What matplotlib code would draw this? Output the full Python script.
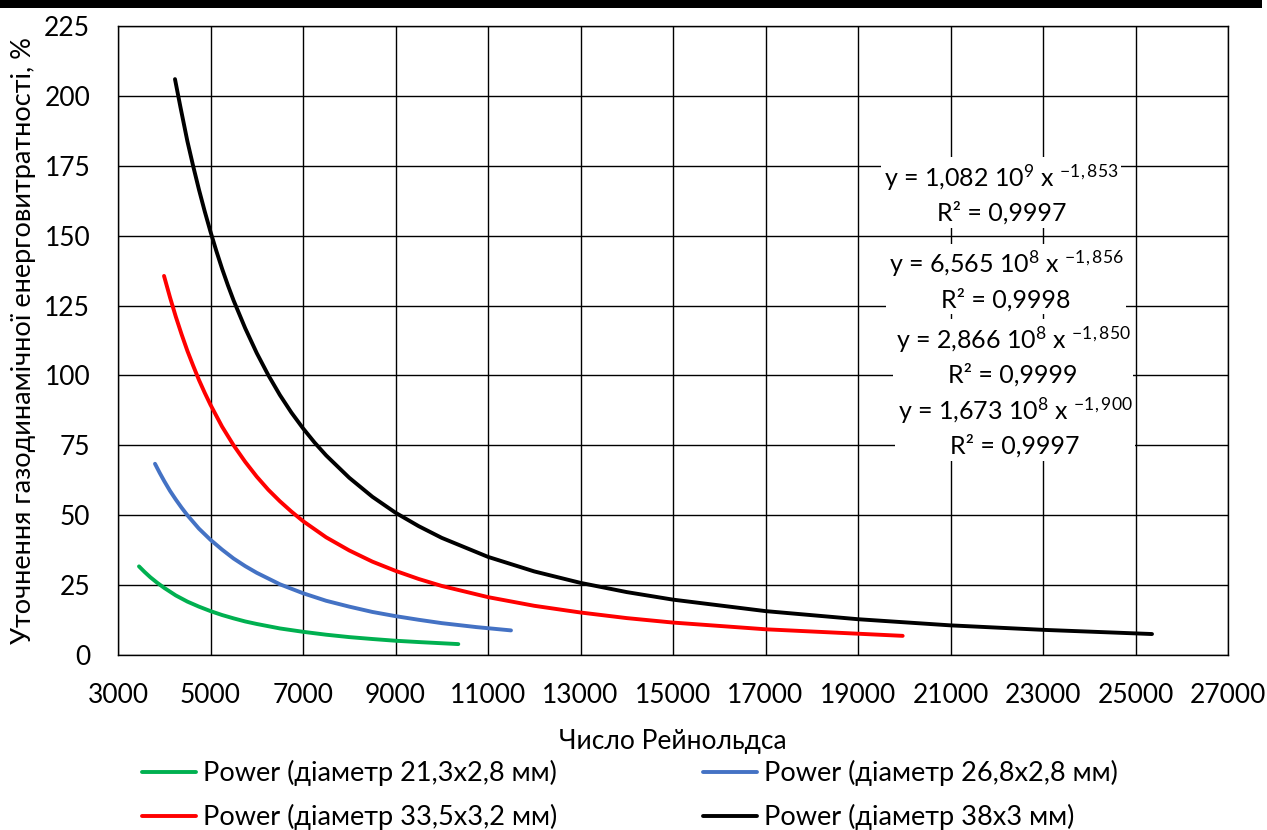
import matplotlib
matplotlib.use("Agg")
import matplotlib.pyplot as plt
from matplotlib.patches import Rectangle

plt.rcParams['font.family'] = ['Lato', 'DejaVu Sans']
plt.rcParams['mathtext.fontset'] = 'custom'
plt.rcParams['mathtext.rm'] = 'Lato'
plt.rcParams['mathtext.it'] = 'Lato'

# ---- data ----
green_x = [3454, 3575, 3700, 3850, 4000, 4250, 4500, 4750, 5000, 5250, 5500, 5750, 6000,
           6500, 7000, 7500, 8000, 8500, 9000, 9500, 10358]
green_y = [31.7, 29.7, 27.8, 25.8, 24.0, 21.3, 19.1, 17.3, 15.7, 14.3, 13.1, 12.0, 11.1,
           9.5, 8.3, 7.26, 6.4, 5.72, 5.1, 4.63, 3.9]

blue_x = [3800, 3900, 4000, 4125, 4250, 4375, 4500, 4750, 5000, 5250, 5500, 5750, 6000,
          6500, 7000, 7500, 8000, 8500, 9000, 9500, 10000, 10750, 11497]
blue_y = [68.4, 65.2, 62.2, 58.7, 55.6, 52.7, 50.0, 45.2, 41.2, 37.7, 34.5, 31.8, 29.4,
          25.3, 22.1, 19.4, 17.3, 15.4, 13.9, 12.6, 11.4, 9.98, 8.8]

red_x = [3995, 4125, 4250, 4375, 4500, 4625, 4750, 4875, 5000, 5250, 5500, 5750, 6000,
         6250, 6500, 6750, 7000, 7500, 8000, 8500, 9000, 9500, 10000,
         11000, 12000, 13000, 14000, 15000, 17000, 19966]
red_y = [135.6, 127.9, 121.0, 114.7, 108.8, 103.5, 98.4, 93.8, 89.5, 81.7, 75.0, 69.1, 63.8,
         59.1, 55.0, 51.3, 47.9, 42.1, 37.4, 33.4, 30.1, 27.2, 24.7,
         20.7, 17.6, 15.2, 13.2, 11.6, 9.2, 6.85]

black_x = [4232, 4350, 4500, 4625, 4750, 4875, 5000, 5125, 5250, 5375, 5500, 5750, 6000,
           6250, 6500, 6750, 7000, 7250, 7500, 8000, 8500, 9000, 9500, 10000,
           11000, 12000, 13000, 14000, 15000, 17000, 19000, 21000, 23000, 25357]
black_y = [206.0, 196.0, 183.8, 174.9, 166.5, 158.7, 151.4, 144.6, 138.2, 132.3, 126.8, 116.9, 108.0,
           100.1, 93.0, 86.7, 81.1, 76.0, 71.4, 63.4, 56.6, 50.9, 46.1, 41.9,
           35.1, 29.9, 25.8, 22.5, 19.8, 15.7, 12.8, 10.6, 9.0, 7.5]

labels = ["Power (діаметр 21,3x2,8 мм)", "Power (діаметр 26,8x2,8 мм)",
          "Power (діаметр 33,5x3,2 мм)", "Power (діаметр 38x3 мм)"]

equations = [r"y = 1,082 10$^{9}$ x $^{\mathregular{-1,853}}$" + "\nR² = 0,9997",
             r"y = 6,565 10$^{8}$ x $^{\mathregular{-1,856}}$" + "\nR² = 0,9998",
             r"y = 2,866 10$^{8}$ x $^{\mathregular{-1,850}}$" + "\nR² = 0,9999",
             r"y = 1,673 10$^{8}$ x $^{\mathregular{-1,900}}$" + "\nR² = 0,9997"]
eq_x = [22100, 22200, 22350, 22400]
eq_y = [165.1, 134.1, 107.1, 81.7]

x_ticks = list(range(3000, 27001, 2000))
y_ticks = list(range(0, 226, 25))

# ---- figure ----
fig = plt.figure(figsize=(12.67, 8.30), dpi=100)
ax = fig.add_axes([118/1267, 1-655/830, (1228-118)/1267, (655-26)/830])

fig.patches.append(Rectangle((0, 1-8/830), 1262/1267, 8/830, transform=fig.transFigure,
                             facecolor='black', edgecolor='none'))

lw = 2.8
lg, = ax.plot(green_x, green_y, color='#00B050', lw=lw, solid_capstyle='round',
              solid_joinstyle='round', label=labels[0], zorder=3)
lb, = ax.plot(blue_x, blue_y, color='#4472C4', lw=lw, solid_capstyle='round',
              solid_joinstyle='round', label=labels[1], zorder=3)
lr, = ax.plot(red_x, red_y, color='#FF0000', lw=lw, solid_capstyle='round',
              solid_joinstyle='round', label=labels[2], zorder=3)
lk, = ax.plot(black_x, black_y, color='#000000', lw=lw, solid_capstyle='round',
              solid_joinstyle='round', label=labels[3], zorder=3)

ax.set_xlim(3000, 27000)
ax.set_ylim(0, 225)
ax.set_xticks(x_ticks)
ax.set_yticks(y_ticks)
ax.grid(True, color='black', lw=1.0)
ax.set_axisbelow(True)
ax.tick_params(length=0, labelsize=19)
ax.tick_params(axis='x', pad=20)
ax.tick_params(axis='y', pad=20)
for s in ax.spines.values():
    s.set_color('black')
    s.set_linewidth(1.0)

for t, x, y in zip(equations, eq_x, eq_y):
    ax.text(x, y, t, ha='center', va='center', multialignment='center', fontsize=18,
            linespacing=1.45, zorder=4,
            bbox=dict(facecolor='white', edgecolor='none', pad=2))

ax.set_xlabel("Число Рейнольдса", fontsize=19, labelpad=15)
ax.set_ylabel("Уточнення газодинамічної енерговитратності, %", fontsize=19.5, labelpad=6)

leg = ax.legend(handles=[lg, lr, lb, lk], ncol=2, loc='upper center',
                bbox_to_anchor=(0.461, -0.167), frameon=False, fontsize=19.5,
                handlelength=2.0, handletextpad=0.25, columnspacing=5.4, labelspacing=0.66,
                borderpad=0, borderaxespad=0)

fig.savefig("out.png", dpi=100)
